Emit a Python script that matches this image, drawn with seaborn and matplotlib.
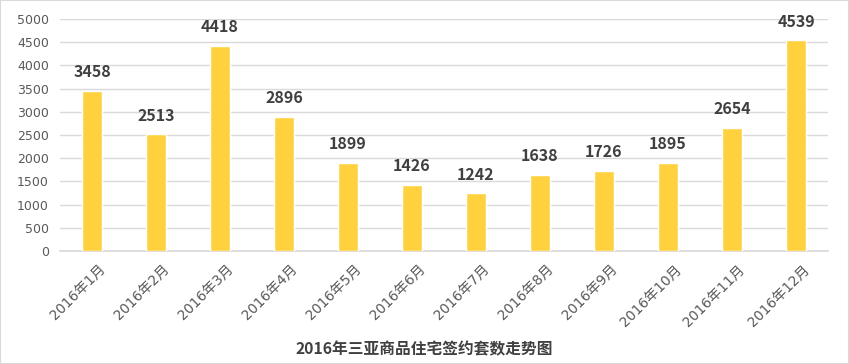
import matplotlib
matplotlib.use("Agg")
import matplotlib.pyplot as plt
import matplotlib.transforms as mtransforms
import seaborn as sns
import pandas as pd
from matplotlib.patches import Rectangle

months = ["2016年1月", "2016年2月", "2016年3月", "2016年4月", "2016年5月", "2016年6月",
          "2016年7月", "2016年8月", "2016年9月", "2016年10月", "2016年11月", "2016年12月"]
values = [3458, 2513, 4418, 2896, 1899, 1426, 1242, 1638, 1726, 1895, 2654, 4539]
yticks = [0, 500, 1000, 1500, 2000, 2500, 3000, 3500, 4000, 4500, 5000]
title = "2016年三亚商品住宅签约套数走势图"

sns.set_theme(style="white")
plt.rcParams['font.family'] = ['Noto Sans CJK SC', 'DejaVu Sans']
tick_family = ['DejaVu Sans', 'Noto Sans CJK SC']

df = pd.DataFrame({"month": months, "value": values})

fig = plt.figure(figsize=(8.49, 3.64), dpi=100)
ax = fig.add_axes([60/849, 1-251/364, 768/849, 232/364])

sns.barplot(data=df, x="month", y="value", color="#FFD13F", saturation=1,
            width=0.3, ax=ax, zorder=3)

ax.set_ylim(0, 5000)
ax.set_yticks(yticks)
ax.yaxis.grid(True, color="#D9D9D9", linewidth=1, zorder=0)
ax.set_axisbelow(True)
for s in ["top", "right", "left"]:
    ax.spines[s].set_visible(False)
ax.spines["bottom"].set_color("#D9D9D9")
ax.set_xlabel("")
ax.set_ylabel("")
ax.tick_params(axis="y", length=0, labelcolor="#595959", pad=8)
ax.tick_params(axis="x", length=0, labelcolor="#595959", pad=8)
for lbl in ax.get_yticklabels():
    lbl.set_family(tick_family)
    lbl.set_fontsize(9)
offset = mtransforms.ScaledTranslation(6/100, 0, fig.dpi_scale_trans)
for lbl in ax.get_xticklabels():
    lbl.set_family(tick_family)
    lbl.set_fontsize(10)
    lbl.set_rotation(45)
    lbl.set_ha("right")
    lbl.set_rotation_mode("anchor")
    lbl.set_transform(lbl.get_transform() + offset)

for i, v in enumerate(values):
    ax.text(i, v + 230, str(v), ha="center", va="bottom", fontsize=11.5,
            fontweight="bold", color="#404040")

fig.text(0.5, 1-349/364, title, ha="center", va="center", fontsize=11.3,
         fontweight="bold", color="#404040")

fig.patches.append(Rectangle((0, 0), 1, 1, transform=fig.transFigure, fill=False,
                             edgecolor="#D9D9D9", linewidth=1.5))

fig.savefig("out.png", dpi=100)
